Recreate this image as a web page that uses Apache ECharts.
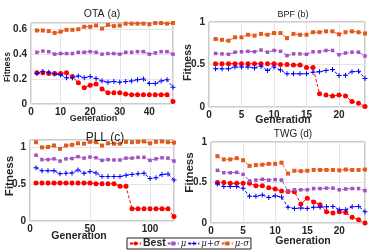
<!DOCTYPE html>
<html><head><meta charset="utf-8">
<script src="https://cdn.jsdelivr.net/npm/echarts@6/dist/echarts.min.js"></script>
<style>html,body{margin:0;padding:0;background:#fff}#c{width:374px;height:252px}</style>
</head><body><div id="c"></div>
<script>
// ---- data ----
const seriesNames = ['Best', 'μ', 'μ+σ', 'μ-σ'];
const titles = ['OTA (a)', 'BPF (b)', 'PLL (c)', 'TWG (d)'];
const xName = 'Generation';
const yName = 'Fitness';

const genA = [2,4,6,8,10,12,14,16,18,20,22,24,26,28,30,32,34,36,38,40,42,44,46,48];
const A_best = [0.25,0.25,0.245,0.245,0.245,0.25,0.22,0.17,0.13,0.15,0.16,0.12,0.09,0.09,0.09,0.08,0.075,0.075,0.075,0.075,0.075,0.075,0.075,0.02];
const A_mu   = [0.415,0.425,0.42,0.40,0.405,0.405,0.405,0.415,0.415,0.42,0.415,0.40,0.405,0.405,0.40,0.415,0.415,0.42,0.42,0.40,0.41,0.42,0.42,0.40];
const A_mps  = [0.245,0.26,0.255,0.24,0.235,0.21,0.21,0.225,0.21,0.22,0.205,0.185,0.175,0.18,0.175,0.18,0.185,0.195,0.20,0.165,0.165,0.185,0.195,0.135];
const A_mms  = [0.59,0.59,0.585,0.57,0.58,0.595,0.595,0.60,0.62,0.62,0.63,0.605,0.635,0.625,0.63,0.645,0.645,0.645,0.645,0.64,0.65,0.65,0.645,0.65];

const genB = [1,2,3,4,5,6,7,8,9,10,11,12,13,14,15,16,17,18,19,20,21,22,23,24];
const B_best = [0.51,0.51,0.51,0.51,0.51,0.51,0.51,0.51,0.51,0.51,0.50,0.50,0.495,0.495,0.465,0.465,0.155,0.14,0.13,0.14,0.13,0.065,0.045,0.005];
const B_mu   = [0.63,0.625,0.62,0.645,0.65,0.655,0.65,0.67,0.645,0.665,0.655,0.605,0.625,0.625,0.62,0.65,0.65,0.665,0.665,0.615,0.635,0.645,0.645,0.60];
const B_mps  = [0.45,0.45,0.45,0.47,0.47,0.47,0.46,0.48,0.43,0.47,0.435,0.39,0.39,0.39,0.39,0.41,0.415,0.43,0.44,0.37,0.375,0.415,0.42,0.335];
const B_mms  = [0.80,0.79,0.78,0.82,0.82,0.85,0.84,0.86,0.85,0.87,0.87,0.81,0.86,0.85,0.85,0.88,0.88,0.89,0.89,0.855,0.88,0.89,0.88,0.865];

const genC = [5,10,15,20,25,30,35,40,45,50,55,60,65,70,75,80,85,90,95,100,105,110,115,120];
const C_best = [0.515,0.515,0.515,0.515,0.515,0.515,0.515,0.515,0.515,0.515,0.505,0.505,0.505,0.505,0.47,0.47,0.165,0.165,0.165,0.165,0.165,0.165,0.165,0.06];
const C_mu   = [0.89,0.83,0.83,0.84,0.81,0.84,0.845,0.87,0.85,0.865,0.855,0.82,0.83,0.825,0.825,0.85,0.85,0.86,0.86,0.82,0.84,0.855,0.85,0.81];
const C_mps  = [0.72,0.68,0.68,0.68,0.64,0.645,0.65,0.69,0.645,0.67,0.65,0.60,0.60,0.60,0.60,0.62,0.63,0.64,0.645,0.575,0.585,0.63,0.635,0.555];
const C_mms  = [1.065,0.995,1.0,1.02,0.975,1.02,1.03,1.05,1.045,1.07,1.065,1.02,1.05,1.045,1.045,1.07,1.065,1.07,1.075,1.05,1.07,1.075,1.065,1.06];

const genD = [1,2,3,4,5,6,7,8,9,10,11,12,13,14,15,16,17,18,19,20,21,22,23,24];
const D_best = [0.50,0.50,0.49,0.49,0.49,0.49,0.46,0.46,0.435,0.42,0.395,0.39,0.385,0.235,0.305,0.26,0.225,0.14,0.125,0.14,0.13,0.07,0.04,0.0];
const D_mu   = [0.65,0.62,0.62,0.625,0.60,0.52,0.53,0.54,0.53,0.535,0.53,0.395,0.41,0.41,0.41,0.425,0.425,0.43,0.43,0.41,0.42,0.425,0.425,0.40];
const D_mps  = [0.48,0.45,0.45,0.45,0.43,0.33,0.33,0.345,0.315,0.335,0.32,0.195,0.18,0.185,0.18,0.195,0.195,0.20,0.205,0.165,0.165,0.20,0.205,0.14];
const D_mms  = [0.825,0.785,0.785,0.80,0.775,0.705,0.715,0.72,0.73,0.73,0.745,0.61,0.645,0.64,0.645,0.655,0.655,0.655,0.655,0.65,0.66,0.655,0.655,0.66];

const panels = [
  {gen: genA, vals: [A_best, A_mu, A_mps, A_mms]},
  {gen: genB, vals: [B_best, B_mu, B_mps, B_mms]},
  {gen: genC, vals: [C_best, C_mu, C_mps, C_mms]},
  {gen: genD, vals: [D_best, D_mu, D_mps, D_mms]}
];

// ---- styling / layout ----
const FONT = "'Liberation Sans', Arial, sans-serif";
const colors = ['#ff0000', '#a050c0', '#0000ff', '#e25a1c'];
const plusPath = 'path://M4,0H6V4H10V6H6V10H4V6H0V4H4Z';
const symbols = ['circle', 'rect', plusPath, 'rect'];
const symSizes = [5, 3.5, 5, 4];

const grids = [
  {left: 31, top: 23, width: 142, height: 81},
  {left: 209, top: 22, width: 156, height: 85},
  {left: 30, top: 140, width: 144, height: 81},
  {left: 211, top: 142, width: 154, height: 81}
];
const xCfg = [
  {min: 0, max: 48, interval: 10},
  {min: 0, max: 24, interval: 5},
  {min: 0, max: 120, interval: 50},
  {min: 0, max: 24, interval: 5}
];
const yCfg = [
  {min: 0, max: 0.65, interval: 0.2},
  {min: 0, max: 1, interval: 0.5},
  {min: 0, max: 1.095, interval: 0.5},
  {min: 0, max: 1, interval: 0.5}
];
const xNameFont = [9, 10.5, 10.5, 10.5];
const yNameFont = [8.5, 10.5, 11.5, 11.5];
const xNameGap = [10, 8, 10, 13];
const xNamePad = [[0,17,0,0],[0,8,0,0],[0,46,0,0],[0,0,0,30]];
const yNameGap = [19, 15, 14, 15];
const yNamePad = [[0,7,0,0],[0,0,0,4],[0,0,0,9],[0,0,0,20]];
const titlePos = [
  {x: 102, y: 9, size: 10.5},
  {x: 293, y: 10, size: 9},
  {x: 105, y: 132, size: 12},
  {x: 293, y: 129, size: 10}
];

const chart = echarts.init(document.getElementById('c'), null, {renderer: 'canvas'});

const option = {
  animation: false,
  backgroundColor: '#fff',
  textStyle: {fontFamily: FONT},
  title: titlePos.map((t, i) => ({
    text: titles[i], left: t.x, top: t.y, textAlign: 'center', padding: 0,
    textStyle: {fontFamily: FONT, fontSize: t.size, fontWeight: 'normal', color: '#222'}
  })),
  grid: grids.map(g => Object.assign({show: true, borderColor: '#999', borderWidth: 1, backgroundColor: 'transparent', containLabel: false}, g)),
  xAxis: xCfg.map((c, i) => ({
    type: 'value', gridIndex: i, min: c.min, max: c.max, interval: c.interval,
    name: xName, nameLocation: 'middle', nameGap: xNameGap[i], nameMoveOverlap: false,
    nameTextStyle: {fontFamily: FONT, fontWeight: 'bold', fontSize: xNameFont[i], color: '#262626', padding: xNamePad[i]},
    axisLine: {show: false}, axisTick: {show: false},
    axisLabel: {fontFamily: FONT, fontWeight: 'bold', fontSize: 10, color: '#262626', margin: 3, showMaxLabel: c.max % c.interval === 0},
    splitLine: {show: true, lineStyle: {color: '#e4e4e4', width: 1}}
  })),
  yAxis: yCfg.map((c, i) => ({
    type: 'value', gridIndex: i, min: c.min, max: c.max, interval: c.interval,
    name: yName, nameLocation: 'middle', nameGap: yNameGap[i], nameRotate: 90, nameMoveOverlap: false,
    nameTextStyle: {fontFamily: FONT, fontWeight: 'bold', fontSize: yNameFont[i], color: '#262626', padding: yNamePad[i]},
    axisLine: {show: false}, axisTick: {show: false},
    axisLabel: {fontFamily: FONT, fontWeight: 'bold', fontSize: 10, color: '#262626', margin: 4,
      showMaxLabel: Math.abs(c.max / c.interval - Math.round(c.max / c.interval)) < 1e-9},
    splitLine: {show: true, lineStyle: {color: '#e4e4e4', width: 1}}
  })),
  legend: {
    data: seriesNames, left: 127, top: 238, orient: 'horizontal',
    borderColor: '#222', borderWidth: 1, padding: [0, 2, 0, 2], itemGap: 1,
    itemWidth: 11, itemHeight: 5,
    formatter: n => n === 'Best' ? '{b|' + n + '}' : '{g|' + n + '}',
    textStyle: {
      fontFamily: FONT, fontSize: 9, color: '#222', padding: [0, 0, 0, -3],
      rich: {
        b: {fontFamily: FONT, fontSize: 10.5, fontWeight: 'bold', color: '#222'},
        g: {fontFamily: "'DejaVu Serif', serif", fontSize: 8.5, fontStyle: 'italic', color: '#222'}
      }
    }
  },
  series: []
};

panels.forEach((p, pi) => {
  p.vals.forEach((vals, si) => {
    option.series.push({
      name: seriesNames[si], type: 'line', xAxisIndex: pi, yAxisIndex: pi,
      data: p.gen.map((g, k) => [g, vals[k]]),
      symbol: symbols[si], symbolSize: symSizes[si], showSymbol: true,
      color: colors[si],
      itemStyle: {color: colors[si]},
      lineStyle: {color: colors[si], width: 1, type: [3, 2]},
      z: 2 + si
    });
  });
});

chart.setOption(option);
</script>
</body></html>
